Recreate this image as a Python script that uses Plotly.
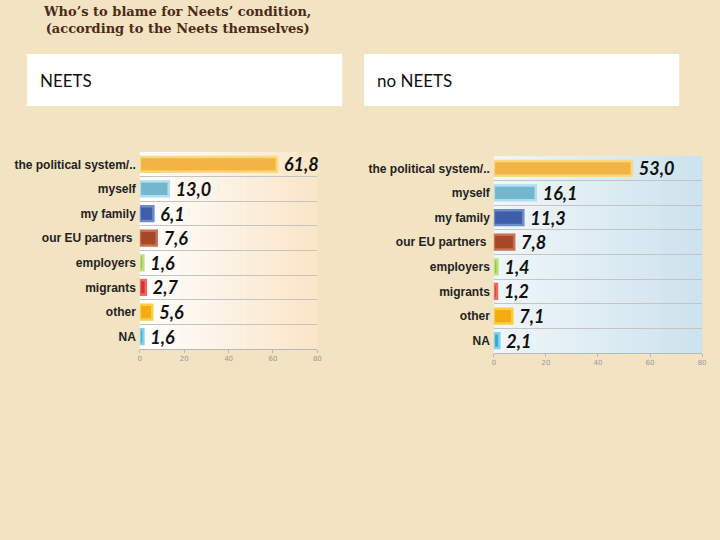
import plotly.graph_objects as go

# data
CATEGORIES = ['the political system/..', 'myself', 'my family', 'our EU partners ',
              'employers', 'migrants', 'other', 'NA']
NEETS_VALUES = [61.8, 13.0, 6.1, 7.6, 1.6, 2.7, 5.6, 1.6]
NO_NEETS_VALUES = [53.0, 16.1, 11.3, 7.8, 1.4, 1.2, 7.1, 2.1]
X_TICKS = [0, 20, 40, 60, 80]

BAR_FILL = ['#f2b445', '#72b7cf', '#3d5ea8', '#a8482a', '#8cc447', '#d8342f', '#f5ac10', '#3ea8cc']
BAR_EDGE = ['#fbd87c', '#addff0', '#6d8ccc', '#c8704f', '#bce27e', '#f06a60', '#fad040', '#80d2ec']

PAPER_BG = '#f2e3c3'
TITLE_COLOR = '#4b2a17'


def fmt(v):
    # comma decimal separator like the source
    return f'{v:.1f}'.replace('.', ',')


fig = go.Figure()

for vals, xa, ya in [(NEETS_VALUES, 'x', 'y'), (NO_NEETS_VALUES, 'x2', 'y2')]:
    fig.add_trace(go.Bar(
        x=vals, y=CATEGORIES, orientation='h', xaxis=xa, yaxis=ya,
        width=0.6,
        marker=dict(color=BAR_FILL, line=dict(color=BAR_EDGE, width=2.5)),
        text=[' ' + fmt(v) for v in vals], textposition='outside', constraintext='none',
        textfont=dict(family='Lato', size=18, color='#111111', weight='bold', style='italic'),
        cliponaxis=False, showlegend=False, hoverinfo='skip'))

# gradient-ish plot backgrounds made of thin stripes
shapes = []
N = 30
for dom, c0, c1 in [('x domain', (255, 255, 255), (250, 230, 200)),
                    ('x2 domain', (240, 247, 250), (206, 227, 238))]:
    yref = 'y domain' if dom == 'x domain' else 'y2 domain'
    for i in range(N):
        t = i / (N - 1)
        col = tuple(int(c0[k] + (c1[k] - c0[k]) * t) for k in range(3))
        shapes.append(dict(type='rect', xref=dom, yref=yref, x0=i / N, x1=(i + 1) / N + 0.002,
                           y0=0, y1=1, fillcolor='rgb(%d,%d,%d)' % col, line_width=0, layer='below'))

# white header boxes
for x0, x1 in [(25, 343), (365, 683)]:
    shapes.append(dict(type='rect', xref='paper', yref='paper', x0=x0 / 720, x1=x1 / 720,
                       y0=1 - 106 / 540, y1=1 - 54 / 540, fillcolor='white', line_width=0, layer='below'))

annotations = [
    dict(text="Who’s to blame for Neets’ condition,<br>(according to the Neets themselves)",
         x=176 / 720, y=1 - 2 / 540, xref='paper', yref='paper', xanchor='center', yanchor='top',
         showarrow=False, align='center',
         font=dict(family='DejaVu Serif', size=13, color=TITLE_COLOR, weight='bold')),
    dict(text='NEETS', x=36 / 720, y=1 - 80 / 540, xref='paper', yref='paper', xanchor='left',
         yanchor='middle', showarrow=False, font=dict(family='Lato', size=17, color='#111111')),
    dict(text='no NEETS', x=376 / 720, y=1 - 80 / 540, xref='paper', yref='paper', xanchor='left',
         yanchor='middle', showarrow=False, font=dict(family='Lato', size=17, color='#111111')),
]

xaxis_common = dict(range=[0, 80], tickvals=X_TICKS, showgrid=False, zeroline=False,
                    showline=True, linecolor='#b8b8b8', linewidth=1, ticks='outside', ticklen=3,
                    tickcolor='#b8b8b8', tickfont=dict(family='DejaVu Sans', size=7, color='#9a9a9a'),
                    fixedrange=True)
yaxis_common = dict(autorange='reversed', tickson='boundaries', showgrid=True, gridcolor='#c4c4c4',
                    gridwidth=1, ticks='', showline=False,
                    tickfont=dict(family='Liberation Sans', size=12, color='#222222', weight='bold'),
                    ticklabelstandoff=3, fixedrange=True)

fig.update_layout(
    width=720, height=540,
    margin=dict(l=0, r=0, t=0, b=0),
    paper_bgcolor=PAPER_BG, plot_bgcolor='rgba(0,0,0,0)',
    bargap=0.4,
    xaxis=dict(domain=[139 / 720, 318 / 720], anchor='y', **xaxis_common),
    yaxis=dict(domain=[1 - 349 / 540, 1 - 152 / 540], anchor='x', **yaxis_common),
    xaxis2=dict(domain=[496 / 720, 706 / 720], anchor='y2', **xaxis_common),
    yaxis2=dict(domain=[1 - 353 / 540, 1 - 156 / 540], anchor='x2', **yaxis_common),
    shapes=shapes,
    annotations=annotations,
)

# drop the default page margin so the figure fills the window
fig.write_html('out.html', config={'displayModeBar': False},
               post_script="document.body.style.margin='0';"
                           "document.body.style.background='%s';" % PAPER_BG)
